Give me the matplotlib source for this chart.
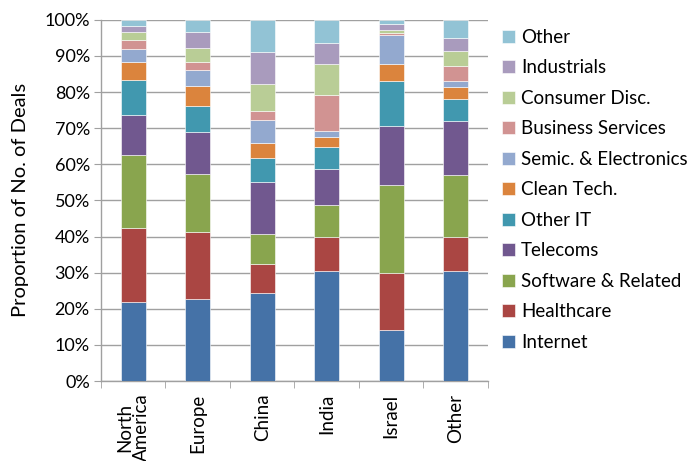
import matplotlib
matplotlib.use("Agg")
import matplotlib.pyplot as plt
import numpy as np
from matplotlib.ticker import PercentFormatter

regions = ["North\nAmerica", "Europe", "China", "India", "Israel", "Other"]
sectors = ["Internet", "Healthcare", "Software & Related", "Telecoms", "Other IT",
           "Clean Tech.", "Semic. & Electronics", "Business Services",
           "Consumer Disc.", "Industrials", "Other"]

# share of deals (%) per sector, one value per region
internet    = [22.0, 22.7, 24.5, 30.4, 14.2, 30.4]
healthcare  = [20.5, 18.5,  7.9,  9.4, 15.8,  9.4]
software    = [20.1, 16.2,  8.3,  8.9, 24.4, 17.1]
telecoms    = [11.0, 11.6, 14.5, 10.0, 16.2, 15.1]
other_it    = [ 9.7,  7.2,  6.5,  6.1, 12.5,  6.1]
clean_tech  = [ 4.9,  5.5,  4.3,  2.8,  4.8,  3.4]
semic       = [ 3.7,  4.3,  6.2,  1.6,  8.0,  1.5]
business    = [ 2.4,  2.4,  2.5, 10.1,  0.5,  4.2]
consumer    = [ 2.4,  3.8,  7.5,  8.6,  0.7,  4.2]
industrials = [ 1.5,  4.4,  8.8,  5.8,  1.7,  3.7]
other       = [ 1.8,  3.4,  9.0,  6.3,  1.2,  4.9]

series = [internet, healthcare, software, telecoms, other_it, clean_tech,
          semic, business, consumer, industrials, other]
colors = ["#4572A7", "#AA4643", "#89A54E", "#71588F", "#4198AF", "#DB843D",
          "#93A9CF", "#D19392", "#B9CD96", "#A99BBD", "#92C3D5"]

plt.rcParams["font.family"] = ["Lato", "DejaVu Sans"]

fig = plt.figure(figsize=(6.96, 4.61), dpi=100)
ax = fig.add_axes([0.145, 0.1735, 0.556, 0.7835])

x = np.arange(len(regions))
bottom = np.zeros(len(regions))
handles = []
for name, vals, c in zip(sectors, series, colors):
    vals = np.array(vals)
    h = ax.bar(x, vals, 0.39, bottom=bottom, color=c, label=name,
               edgecolor="white", linewidth=0.4, zorder=3)
    handles.append(h)
    bottom += vals

ax.set_xlim(-0.5, len(regions) - 0.5)
ax.set_ylim(0, 100)
ax.set_yticks(np.arange(0, 101, 10))
ax.yaxis.set_major_formatter(PercentFormatter(decimals=0))
ax.yaxis.grid(True, color="#A0A0A0", linewidth=1.0, zorder=0)
ax.set_axisbelow(True)

ax.set_xticks(x)
ax.set_xticklabels(regions, rotation=90, fontsize=13.5, va="top", ha="center",
                   linespacing=0.95)
ax.set_xticks(np.arange(-0.5, len(regions), 1), minor=True)
ax.tick_params(axis="x", which="major", length=0, pad=9)
ax.tick_params(axis="x", which="minor", length=5, color="#A0A0A0", direction="out")
ax.tick_params(axis="y", length=5, color="#A0A0A0", labelsize=13, pad=3)

for side in ["top", "right"]:
    ax.spines[side].set_visible(False)
for side in ["left", "bottom"]:
    ax.spines[side].set_color("#A0A0A0")
    ax.spines[side].set_linewidth(1.0)

ax.set_ylabel("Proportion of No. of Deals", fontsize=14.5, labelpad=8)
ax.yaxis.set_label_coords(-0.185, 0.5)

leg = fig.legend(handles[::-1], sectors[::-1], loc="upper left",
                 bbox_to_anchor=(0.711, 0.954), frameon=False, fontsize=13.5,
                 handlelength=0.7, handleheight=0.7, handletextpad=0.3,
                 labelspacing=0.72, borderaxespad=0)

fig.savefig("out.png", dpi=100)
